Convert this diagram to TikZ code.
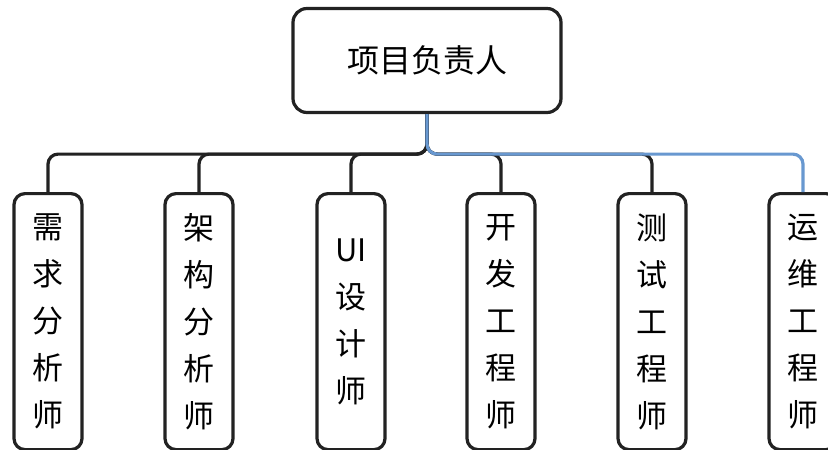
\documentclass[tikz,border=0pt]{standalone}
\usepackage{fontspec}
\setmainfont{Noto Sans CJK SC}
\usetikzlibrary{positioning}
\definecolor{orgdark}{RGB}{34,34,34}
\definecolor{orgblue}{RGB}{104,152,208}
\tikzstyle{link} = [line width=3.2pt, color=orgdark, rounded corners=10pt]
\tikzstyle{leadbox} = [rectangle, rounded corners=14pt, draw=orgdark, line width=3.2pt, fill=white, minimum width=268pt, minimum height=104pt, font=\fontsize{32}{36}\selectfont]
\tikzstyle{rolebox} = [rectangle, rounded corners=11pt, draw=orgdark, line width=3.2pt, fill=white, minimum width=68pt, minimum height=256pt, inner sep=0pt, align=center, anchor=north, font=\fontsize{31}{47}\selectfont]

\begin{document}
\begin{tikzpicture}[x=1pt, y=-1pt]
\useasboundingbox (0,0) rectangle (828,450);
% Project lead
\node[leadbox] (lead) at (427,60.5) {项目负责人};

% Roles
\node[rolebox] (req) at (48,192) {需\\求\\分\\析\\师};
\node[rolebox] (arch) at (199,192) {架\\构\\分\\析\\师};
\node[rolebox] (ui) at (351,192) {UI\\设\\计\\师};
\node[rolebox] (dev) at (501,192) {开\\发\\工\\程\\师};
\node[rolebox] (test) at (652,192) {测\\试\\工\\程\\师};
\node[rolebox] (ops) at (803,192) {运\\维\\工\\程\\师};

% Connectors
\foreach \r in {req,arch,ui,dev,test}
  \draw[link] (lead.south) -- ++(0,40) -| (\r.north);
\draw[link, color=orgblue] (lead.south) -- ++(0,40) -| (ops.north);
\end{tikzpicture}
\end{document}
